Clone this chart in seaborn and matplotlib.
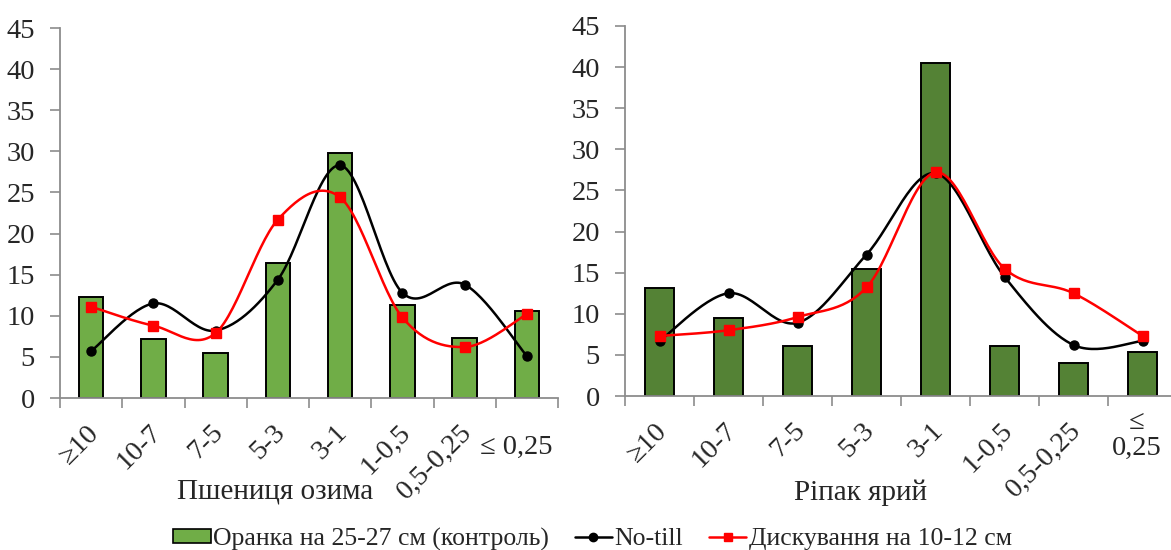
import numpy as np
import pandas as pd
import matplotlib
matplotlib.use("Agg")
import matplotlib.pyplot as plt
import matplotlib.transforms as mtransforms
from matplotlib.patches import Patch
from matplotlib.lines import Line2D
import seaborn as sns

# fractions of aggregates, %
fractions = ["≥10", "10-7", "7-5", "5-3", "3-1", "1-0,5", "0,5-0,25", "≤ 0,25"]
fractions_right = ["≥10", "10-7", "7-5", "5-3", "3-1", "1-0,5", "0,5-0,25", "≤\n0,25"]

wheat_plough = [12.3, 7.2, 5.5, 16.4, 29.8, 11.3, 7.3, 10.6]
wheat_notill = [5.7, 11.5, 8.2, 14.4, 28.3, 12.8, 13.8, 5.1]
wheat_disk = [11.1, 8.8, 7.9, 21.7, 24.4, 9.8, 6.2, 10.2]

rape_plough = [13.1, 9.45, 6.1, 15.5, 40.5, 6.1, 4.0, 5.4]
rape_notill = [6.7, 12.5, 8.9, 17.2, 27.1, 14.5, 6.2, 6.7]
rape_disk = [7.3, 8.0, 9.6, 13.2, 27.2, 15.5, 12.5, 7.3]

legend_labels = ["Оранка на 25-27 см (контроль)", "No-till", "Дискування на 10-12 см"]

GREEN_LIGHT = "#70AD47"
GREEN_DARK = "#548235"
RED = "#FF0000"
AXIS_GREY = "#8C8C8C"
TICK_FS = 20.5


def smooth_curve(y, n=30):
    """Excel-style smoothed line (Catmull-Rom Bezier) through the points."""
    x = np.arange(len(y), dtype=float)
    y = np.asarray(y, dtype=float)
    pts = np.column_stack([x, y])
    out = []
    t = np.linspace(0, 1, n)[:, None]
    for i in range(len(pts) - 1):
        p0 = pts[max(i - 1, 0)]
        p1 = pts[i]
        p2 = pts[i + 1]
        p3 = pts[min(i + 2, len(pts) - 1)]
        c1 = p1 + (p2 - p0) / 6
        c2 = p2 - (p3 - p1) / 6
        seg = ((1 - t) ** 3) * p1 + 3 * ((1 - t) ** 2) * t * c1 + 3 * (1 - t) * t ** 2 * c2 + t ** 3 * p2
        out.append(seg)
    out = np.vstack(out)
    return out[:, 0], out[:, 1]


def draw_panel(ax, labels, plough, notill, disk, bar_color, bar_width, last_label_shift):
    df = pd.DataFrame({"fraction": labels, "value": plough})
    sns.barplot(data=df, x="fraction", y="value", color=bar_color, saturation=1,
                edgecolor="black", linewidth=1.4, width=bar_width, ax=ax)

    for vals, color, marker, ms in [(notill, "black", "o", 6.5), (disk, RED, "s", 7)]:
        xs, ys = smooth_curve(vals)
        ax.plot(xs, ys, color=color, lw=1.8, zorder=3)
        ax.plot(np.arange(len(vals)), vals, ls="none", marker=marker, ms=ms,
                color=color, zorder=4)

    ax.set_ylim(0, 45)
    ax.set_yticks(range(0, 46, 5))
    ax.set_xlim(-0.5, 7.5)
    ax.set_xlabel("")
    ax.set_ylabel("")

    # category boundary ticks, labels on minor ticks at the centres
    ax.set_xticks(np.arange(-0.5, 8, 1))
    ax.set_xticklabels([])
    ax.set_xticks(np.arange(8), minor=True)
    ax.set_xticklabels(labels, minor=True)
    ax.tick_params(axis="x", which="minor", length=0, pad=18, labelsize=TICK_FS)
    ax.tick_params(axis="x", which="major", length=7, width=1.2, color=AXIS_GREY, direction="out")
    ax.tick_params(axis="y", length=7, width=1.2, color=AXIS_GREY, labelsize=TICK_FS, pad=11)

    fig = ax.figure
    tls = ax.get_xticklabels(minor=True)
    for tl in tls[:-1]:
        tl.set_rotation(45)
        tl.set_ha("right")
        tl.set_va("center")
        tl.set_rotation_mode("anchor")
        tl.set_transform(tl.get_transform() + mtransforms.ScaledTranslation(0.04, -0.06, fig.dpi_scale_trans))
    last = tls[-1]
    last.set_rotation(0)
    last.set_ha("center")
    last.set_va("top")
    last.set_linespacing(1.05)
    last.set_transform(last.get_transform() + mtransforms.ScaledTranslation(last_label_shift[0], last_label_shift[1], fig.dpi_scale_trans))

    sns.despine(ax=ax)
    for side in ["left", "bottom"]:
        ax.spines[side].set_color(AXIS_GREY)
        ax.spines[side].set_linewidth(1.3)


sns.set_style("ticks")
plt.rcParams["font.family"] = ["Liberation Serif", "DejaVu Serif"]

fig = plt.figure(figsize=(11.71, 5.5), dpi=100)
W, H = 1171, 550
ax1 = fig.add_axes([60 / W, 1 - 398 / H, 498 / W, 370 / H])
ax2 = fig.add_axes([625 / W, 1 - 396 / H, 552 / W, 370 / H])

draw_panel(ax1, fractions, wheat_plough, wheat_notill, wheat_disk, GREEN_LIGHT, 0.39, (-0.11, -0.12))
draw_panel(ax2, fractions_right, rape_plough, rape_notill, rape_disk, GREEN_DARK, 0.42, (-0.06, 0.11))

fig.text(275 / W, 1 - 499 / H, "Пшениця озима", ha="center", va="baseline", fontsize=21)
fig.text(860 / W, 1 - 500 / H, "Ріпак ярий", ha="center", va="baseline", fontsize=21)

handles = [
    Patch(facecolor=GREEN_LIGHT, edgecolor="black", linewidth=1.2),
    Line2D([], [], color="black", lw=1.8, marker="o", ms=6),
    Line2D([], [], color=RED, lw=1.8, marker="s", ms=6),
]
fig.legend(handles, legend_labels, loc="center", bbox_to_anchor=(0.506, 0.02), ncol=3,
           frameon=False, fontsize=18.5, handlelength=1.45, handleheight=0.45,
           handletextpad=0.1, columnspacing=1.0, borderpad=0)

fig.savefig("out.png", dpi=100)
